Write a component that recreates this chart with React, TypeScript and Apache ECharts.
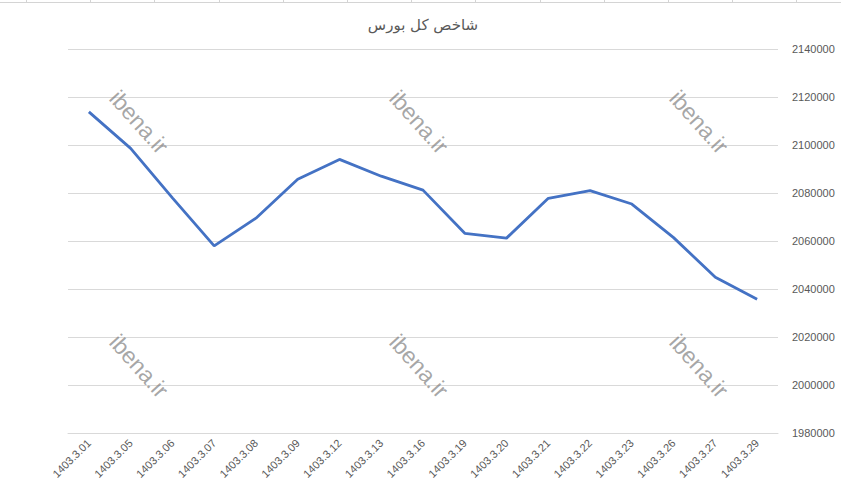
import React, { useEffect, useRef } from "react";
import * as echarts from "echarts";

const title = "شاخص کل بورس";
const categories = [
  "1403.3.01", "1403.3.05", "1403.3.06", "1403.3.07", "1403.3.08", "1403.3.09",
  "1403.3.12", "1403.3.13", "1403.3.16", "1403.3.19", "1403.3.20", "1403.3.21",
  "1403.3.22", "1403.3.23", "1403.3.26", "1403.3.27", "1403.3.29",
];
const indexValues = [
  2113800, 2098600, 2078000, 2058000, 2069500, 2085700, 2094000, 2087000, 2081200,
  2063200, 2061200, 2077800, 2081000, 2075400, 2061400, 2044900, 2035700,
];
const yMin = 1980000;
const yMax = 2140000;
const yStep = 20000;
const watermark = "ibena.ir";

export default function App() {
  const ref = useRef<HTMLDivElement>(null);
  useEffect(() => {
    document.body.style.margin = "0";
    const chart = echarts.init(ref.current!, null, { renderer: "svg" });
    const wmPos = [
      [139, 122], [419, 122], [699, 122],
      [139, 366], [419, 366], [699, 366],
    ];
    const cellXs: number[] = [];
    for (let x = 26; x < 841; x += 64.2) cellXs.push(Math.round(x));
    const graphics: any[] = [
      {
        type: "line",
        shape: { x1: 0, y1: 2.5, x2: 841, y2: 2.5 },
        style: { stroke: "#d4d4d4", lineWidth: 1 },
        silent: true,
      },
      ...cellXs.map((x) => ({
        type: "line",
        shape: { x1: x + 0.5, y1: 0, x2: x + 0.5, y2: 2.5 },
        style: { stroke: "#d4d4d4", lineWidth: 1 },
        silent: true,
      })),
      ...wmPos.map(([x, y]) => ({
        type: "text",
        x,
        y,
        rotation: -0.84,
        z: 100,
        silent: true,
        style: {
          text: watermark,
          fill: "rgba(128,128,128,0.7)",
          font: '23px "Liberation Sans"',
          align: "center",
          verticalAlign: "middle",
        },
      })),
    ];
    chart.setOption({
      animation: false,
      backgroundColor: "#ffffff",
      title: {
        text: title,
        left: 418,
        top: 12,
        textAlign: "center",
        textStyle: {
          fontFamily: '"DejaVu Sans"',
          fontSize: 15,
          fontWeight: "normal",
          color: "#595959",
        },
      },
      grid: { left: 68, right: 63, top: 49, bottom: 60, containLabel: false },
      xAxis: {
        type: "category",
        data: categories,
        boundaryGap: true,
        axisLine: { lineStyle: { color: "#d9d9d9" } },
        axisTick: { show: false },
        axisLabel: {
          rotate: 45,
          interval: 0,
          margin: 8,
          color: "#595959",
          fontSize: 11,
          fontFamily: '"Liberation Sans"',
        },
      },
      yAxis: {
        type: "value",
        position: "right",
        min: yMin,
        max: yMax,
        interval: yStep,
        axisLine: { show: false },
        axisTick: { show: false },
        splitLine: { lineStyle: { color: "#d9d9d9" } },
        axisLabel: {
          margin: 14,
          color: "#595959",
          fontSize: 11,
          fontFamily: '"Liberation Sans"',
          formatter: (v: number) => String(v),
        },
      },
      series: [
        {
          type: "line",
          data: indexValues,
          symbol: "none",
          lineStyle: { color: "#4472C4", width: 2.8 },
          itemStyle: { color: "#4472C4" },
        },
      ],
      graphic: graphics,
    });
    return () => chart.dispose();
  }, []);
  return (
    <div
      ref={ref}
      style={{ position: "fixed", left: 0, top: 0, width: 841, height: 493 }}
    />
  );
}
